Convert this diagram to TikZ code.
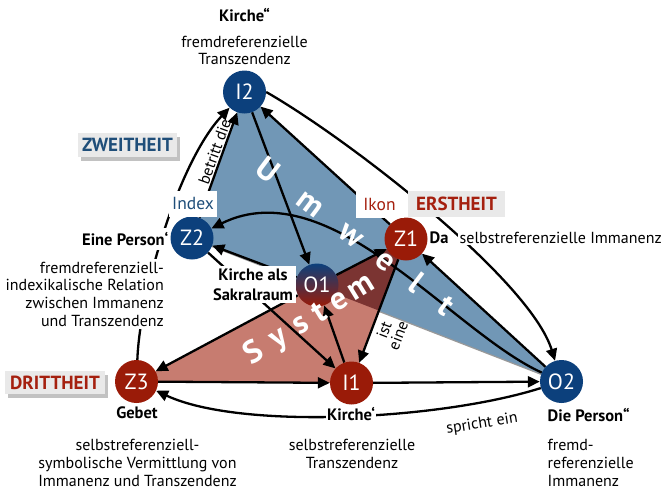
\documentclass[tikz,border=0pt]{standalone}
\usepackage{fontspec}
\setmainfont{PT Sans}
\usetikzlibrary{arrows.meta,shadows}
\pgfdeclarelayer{bg}
\pgfdeclarelayer{lines}
\pgfsetlayers{bg,lines,main}
\definecolor{nblue}{RGB}{12,64,124}
\definecolor{nred}{RGB}{154,27,8}
\definecolor{tblue}{RGB}{113,151,182}
\definecolor{tsalmon}{RGB}{199,124,112}
\definecolor{tdark}{RGB}{123,52,50}
\definecolor{lblue}{RGB}{31,78,121}
\definecolor{lred}{RGB}{165,32,15}
\definecolor{boxgray}{RGB}{233,233,233}
\begin{document}
\begin{tikzpicture}[x=1pt,y=-1pt,
  sem/.style={circle, minimum size=43pt, inner sep=0pt, text=white, font=\fontsize{22}{22}\selectfont},
  bnode/.style={sem, fill=nblue},
  rnode/.style={sem, fill=nred},
  arr/.style={line width=2.3pt, -{Triangle[length=12pt,width=11pt]}},
  desc/.style={font=\fontsize{16}{17.7}\selectfont, fill=white, inner sep=1.5pt},
  lab/.style={font=\bfseries\fontsize{16.5}{19}\selectfont, fill=white, inner sep=1.5pt},
  edgelab/.style={font=\fontsize{16}{15}\selectfont, inner sep=1pt},
  idx/.style={font=\fontsize{17.5}{17.5}\selectfont, fill=white, minimum width=48pt, minimum height=26pt, inner sep=0pt},
  cat/.style={font=\bfseries\fontsize{19}{19}\selectfont, fill=boxgray, minimum height=24pt, minimum width=99pt, inner sep=0pt},
  catshadow/.style={drop shadow={shadow xshift=3pt, shadow yshift=-4pt, fill=black!40, opacity=0.6}},
  big/.style={font=\bfseries\fontsize{32}{32}\selectfont, text=white, inner sep=0pt, text height=0.7em, text depth=0.2em},
]
\useasboundingbox (0,0) rectangle (666,490);
\coordinate (pI2) at (244.5,92);
\coordinate (pZ2) at (192,238);
\coordinate (pZ1) at (406,239);
\coordinate (pO1) at (317,285);
\coordinate (pZ3) at (136.5,381.5);
\coordinate (pI1) at (351.5,383);
\coordinate (pO2) at (561.5,381.5);

\begin{pgfonlayer}{bg}
  \fill[black!40] ([shift={(1.5,2)}]pI2) -- ([shift={(1.5,2)}]pZ2) -- ([shift={(1.5,2)}]pO2) -- cycle;
  \fill[tblue] (pI2) -- (pZ2) -- (pO2) -- cycle;
  \fill[tsalmon] (pZ3) -- (pZ1) -- (pI1) -- cycle;
  \begin{scope}
    \clip (pZ3) -- (pZ1) -- (pI1) -- cycle;
    \fill[tdark] (pI2) -- (pZ2) -- (pO2) -- cycle;
  \end{scope}
\end{pgfonlayer}

% semiotic nodes
\node[bnode] (I2) at (pI2) {I2};
\node[bnode] (Z2) at (pZ2) {Z2};
\node[rnode] (Z1) at (pZ1) {Z1};
\node[sem, top color=nblue, bottom color=nred] (O1) at (pO1) {O1};
\node[rnode] (Z3) at (pZ3) {Z3};
\node[rnode] (I1) at (pI1) {I1};
\node[bnode] (O2) at (pO2) {O2};

% connectors
\begin{pgfonlayer}{lines}
  \draw[arr] (Z3) .. controls (140,290) and (180,160) .. (I2);
  \draw[arr] (Z2) -- node[pos=0.6, sloped, above, edgelab] (betritt) {betritt die} (I2);
  \draw[arr] (Z1) -- (I2);
  \draw[arr] (I2.east) .. controls (350,140) and (530,280) .. (O2);
  \draw[arr] (I2) -- (O1);
  \draw[arr] (O2) .. controls (452,332) and (330,170) .. (Z2);
  \draw[arr] (O1) -- (Z2);
  \draw[arr] (Z2) -- (I1);
  \draw[arr] (O1) -- (Z1);
  \draw[arr] (O1) -- (Z3);
  \draw[arr] (I1) -- (O1);
  \draw[arr] (Z1) -- (I1);
  \draw[arr] (O2) -- (Z1);
  \draw[arr] (Z3) -- (I1);
  \draw[arr] (I1) -- (O2);
  \draw[arr] (O2) .. controls (440,420) and (240,430) .. (Z3);
\end{pgfonlayer}

% edge labels
\node[edgelab, rotate=69, align=center] (isteine) at (391,333) {ist\\eine};
\node[edgelab, rotate=9] (spricht) at (482,424) {spricht ein};

% texts
\node[lab] (kircheTop) at (244.5,15) {Kirche“};
\node[desc, align=center] (dI2) at (244.5,50.5) {fremdreferenzielle\\Transzendenz};
\node[cat, text=lblue, catshadow] (zweit) at (127.5,145) {ZWEITHEIT};
\node[idx, text=lblue] (index) at (193,203.5) {Index};
\node[idx, text=lred] (ikon) at (379.5,204.5) {Ikon};
\node[cat, text=lred, minimum height=26pt, minimum width=97pt] (erst) at (456.5,203.5) {ERSTHEIT};
\node[lab, anchor=east, inner ysep=4pt] (personA) at (170,239) {Eine Person‘};
\node[desc, align=right, anchor=east, inner sep=3pt] (dZ2) at (167,294) {fremdreferenziell-\\indexikalische Relation\\zwischen Immanenz\\und Transzendenz};
\node[lab, align=center, inner sep=3pt, font=\bfseries\fontsize{16.5}{20}\selectfont] (sakral) at (253,284.5) {Kirche als\\Sakralraum};
\node[lab] (da) at (439,238) {Da};
\node[desc, anchor=west] (dZ1) at (458,238) {selbstreferenzielle Immanenz};
\node[cat, text=lred, catshadow, minimum height=23pt, minimum width=100pt] (dritt) at (55,382.5) {DRITTHEIT};
\node[lab] (gebet) at (137,413) {Gebet};
\node[desc, align=center] (dZ3) at (137.5,463) {selbstreferenziell-\\symbolische Vermittlung von\\Immanenz und Transzendenz};
\node[lab] (kircheA) at (351,414) {Kirche‘};
\node[desc, align=center] (dI1) at (352,454) {selbstreferenzielle\\Transzendenz};
\node[lab, anchor=west] (personB) at (546,415) {Die Person“};
\node[desc, align=left, anchor=west] (dO2) at (546,463) {fremd-\\referenzielle\\Immanenz};

% Umwelt / System
\foreach \l/\x/\y in {U/263/177, m/306/209.5, w/347/240.4, e/381/266, l/412/289.5, t/441/311.4}
  \node[big, rotate=-37] (uw\l) at (\x,\y) {\l};
\foreach \l/\x/\y in {S/257/359, y/282/343.6, s/304/330, t/323/318.3, e/342/306.3, m/364/293}
  \node[big, rotate=31.5] (sy\l) at (\x,\y) {\l};
\end{tikzpicture}
\end{document}
